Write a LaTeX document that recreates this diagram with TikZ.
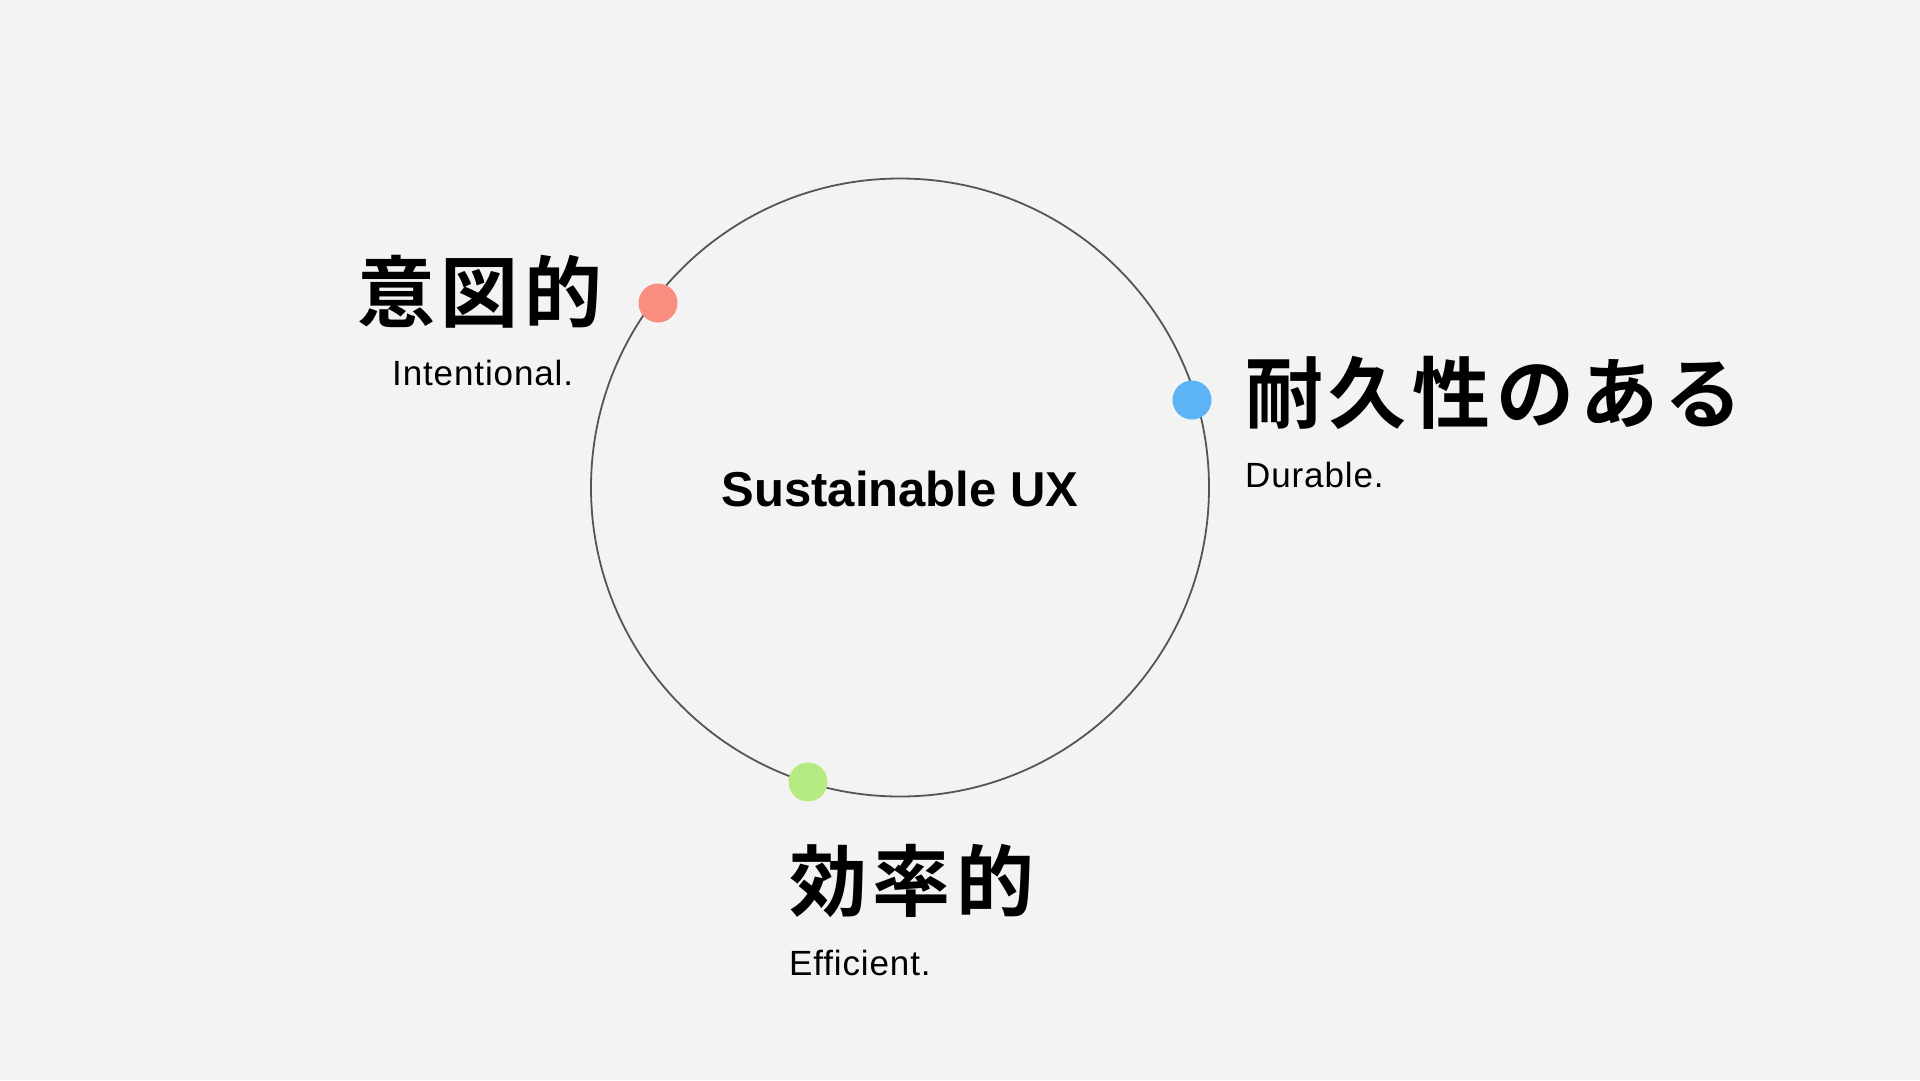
\documentclass[tikz,border=0pt]{standalone}
\usepackage{fontspec}
\setmainfont{Liberation Sans}
\newfontfamily\entextfont[LetterSpace=2.5]{Liberation Sans}
\newfontfamily\jpb[LetterSpace=7.5]{Noto Sans CJK JP Bold}
\definecolor{bg}{HTML}{F3F3F3}
\definecolor{ring}{HTML}{555555}
\definecolor{dotred}{HTML}{F98E80}
\definecolor{dotblue}{HTML}{5BB5F5}
\definecolor{dotgreen}{HTML}{B5EB82}
\tikzset{
  jptext/.style={anchor=west,inner sep=0pt,font=\jpb\fontsize{78}{90}\selectfont},
  entext/.style={anchor=base west,inner sep=0pt,font=\entextfont\fontsize{35}{40}\selectfont},
  dotmark/.style={circle,inner sep=0pt,minimum size=39pt},
}
\begin{document}
\begin{tikzpicture}[x=1pt,y=-1pt]
\fill[bg] (0,0) rectangle (1920,1080);
\useasboundingbox (0,0) rectangle (1920,1080);
\node[circle,draw=ring,line width=1.8pt,minimum size=618pt,inner sep=0pt] (ring) at (900,487.5) {};
\node[anchor=base,inner sep=0pt,font=\bfseries\fontsize{49}{56}\selectfont] (title) at (900,506) {Sustainable UX};
\node[dotmark,fill=dotred] (dred) at (658,303) {};
\node[dotmark,fill=dotblue] (dblue) at (1192,400) {};
\node[dotmark,fill=dotgreen] (dgreen) at (808,782) {};
\node[jptext] (jp1) at (357,292) {意図的};
\node[entext] (en1) at (392,385) {Intentional.};
\node[jptext] (jp2) at (1245,392.5) {耐久性のある};
\node[entext] (en2) at (1245,487) {Durable.};
\node[jptext] (jp3) at (789,881) {効率的};
\node[entext] (en3) at (789,975) {Efficient.};
\end{tikzpicture}
\end{document}
